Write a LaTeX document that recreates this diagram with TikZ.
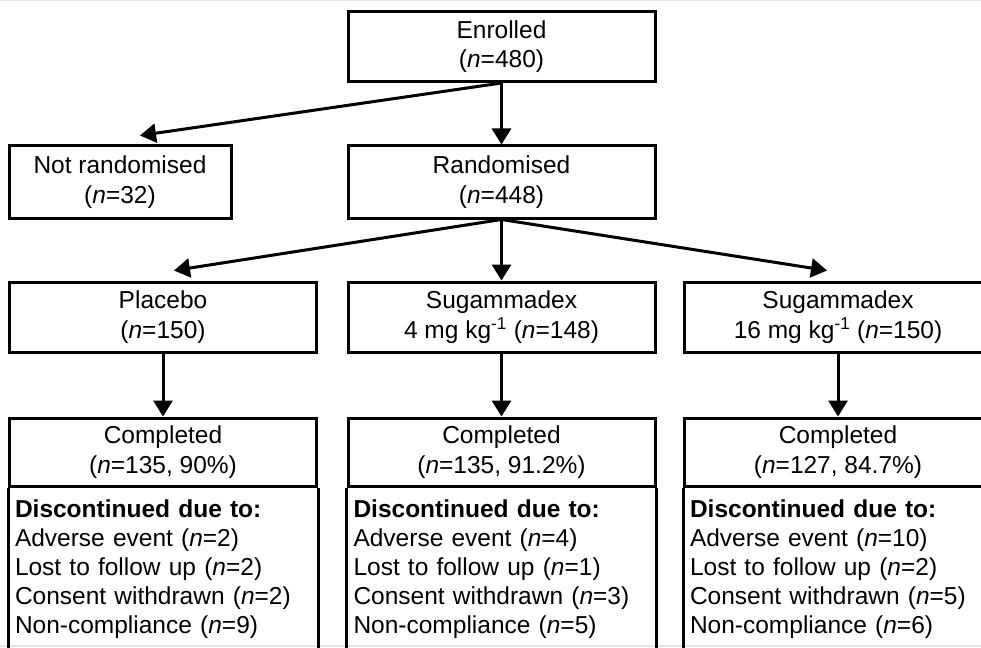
\documentclass[tikz,border=0pt]{standalone}
\usepackage{fontspec}
\setmainfont{Liberation Sans}
\usetikzlibrary{arrows.meta, positioning, calc}
\definecolor{edgegray}{RGB}{226,231,238}

\tikzset{
  box/.style={draw, line width=3pt, minimum width=307pt, minimum height=70pt, inner sep=0pt, align=center, font=\fontsize{24.5}{29.5}\selectfont},
  reasons/.style={anchor=north west, align=left, text width=295pt, inner xsep=7pt, inner ysep=12pt, outer sep=0pt, font=\fontsize{24.5}{29}\selectfont},
  arr/.style={line width=3pt, -{Triangle[length=16pt,width=19pt]}},
  frame/.style={line width=3pt}
}

\begin{document}
\begin{tikzpicture}[x=1pt,y=-1pt]
\useasboundingbox (0,0) rectangle (981,647);
\clip (0,0) rectangle (981,647);
\draw[edgegray, line width=3pt] (0,0) -- (981,0);
\draw[edgegray, line width=2pt] (0,646) -- (981,646);

\node[box] (enrolled) at (501.5,46.5) {Enrolled\\(\textit{n}=480)};
\node[box, minimum height=72pt] (rand) at (501.5,182) {Randomised\\(\textit{n}=448)};
\node[box, minimum width=222pt, minimum height=72pt] (notrand) at (120,182) {Not randomised\\(\textit{n}=32)};
\node[box] (placebo) at (163,317) {Placebo\\(\textit{n}=150)};
\node[box] (lowdose) at (501.5,317) {Sugammadex\\4 mg kg\textsuperscript{-1} (\textit{n}=148)};
\node[box] (highdose) at (838,317) {Sugammadex\\16 mg kg\textsuperscript{-1} (\textit{n}=150)};

\draw[arr] (enrolled.south) -- (rand.north);
\draw[arr] (enrolled.south) -- ($(notrand.north)+(20,-9)$);
\draw[arr] (rand.south) -- ($(placebo.north)+(11,-10)$);
\draw[arr] (rand.south) -- (lowdose.north);
\draw[arr] (rand.south) -- ($(highdose.north)+(-11,-10)$);

\foreach \arm/\nm/\x/\ntot/\pct/\adv/\lost/\cons/\noncomp in {placebo/compa/163/135/90/2/2/2/9,
  lowdose/compb/501.5/135/91.2/4/1/3/5, highdose/compc/838/127/84.7/10/2/5/6} {
\node[box, minimum height=68pt] (\nm) at (\x,452) {Completed\\(\textit{n}=\ntot, \pct\%)};
\node[reasons] (why\nm) at (\nm.south west) {\textbf{Discontinued due to:}\\Adverse event (\textit{n}=\adv)\\Lost to follow up (\textit{n}=\lost)\\Consent withdrawn (\textit{n}=\cons)\\Non-compliance (\textit{n}=\noncomp)};
\draw[arr] (\arm) -- (\nm);
\draw[frame] (\nm.south west) -- ++(0,200) (\nm.south east) -- ++(0,200);
}
\end{tikzpicture}
\end{document}
